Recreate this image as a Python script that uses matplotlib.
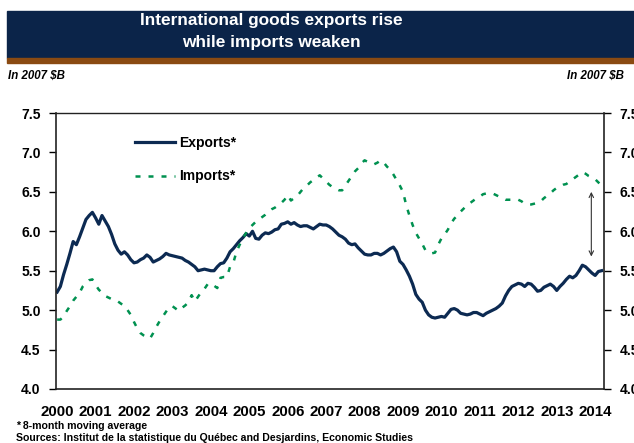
import matplotlib

matplotlib.use("Agg")

import matplotlib.pyplot as plt
import numpy as np
from matplotlib.patches import Rectangle

plt.rcParams["font.family"] = ["Liberation Sans", "DejaVu Sans"]
plt.rcParams["font.weight"] = "bold"

# monthly values, Jan 2000 .. Mar 2014 (8-month moving average, 2007 $B)
START_YEAR = 2000
exports = [
    5.23, 5.30, 5.45, 5.58, 5.72, 5.87, 5.83, 5.93, 6.04, 6.15, 6.20, 6.24,  # 2000
    6.17, 6.09, 6.20, 6.13, 6.06, 5.96, 5.84, 5.76, 5.71, 5.74, 5.70, 5.64,  # 2001
    5.60, 5.61, 5.64, 5.66, 5.70, 5.67, 5.61, 5.63, 5.65, 5.68, 5.72, 5.70,  # 2002
    5.69, 5.68, 5.67, 5.66, 5.63, 5.61, 5.58, 5.55, 5.50, 5.51, 5.52, 5.51,  # 2003
    5.50, 5.50, 5.55, 5.59, 5.60, 5.66, 5.74, 5.78, 5.83, 5.88, 5.92, 5.97,  # 2004
    5.94, 6.00, 5.91, 5.90, 5.95, 5.98, 5.97, 5.99, 6.02, 6.03, 6.09, 6.10,  # 2005
    6.12, 6.09, 6.11, 6.08, 6.06, 6.07, 6.07, 6.05, 6.03, 6.06, 6.09, 6.08,  # 2006
    6.08, 6.06, 6.03, 5.99, 5.95, 5.93, 5.90, 5.85, 5.83, 5.84, 5.79, 5.75,  # 2007
    5.71, 5.70, 5.70, 5.72, 5.72, 5.70, 5.72, 5.75, 5.78, 5.80, 5.74, 5.62,  # 2008
    5.58, 5.51, 5.43, 5.33, 5.20, 5.14, 5.10, 5.00, 4.94, 4.91, 4.90, 4.91,  # 2009
    4.92, 4.91, 4.96, 5.01, 5.02, 5.00, 4.96, 4.95, 4.94, 4.95, 4.97, 4.97,  # 2010
    4.95, 4.93, 4.96, 4.98, 5.00, 5.02, 5.05, 5.09, 5.18, 5.25, 5.30, 5.32,  # 2011
    5.34, 5.33, 5.30, 5.34, 5.33, 5.29, 5.24, 5.25, 5.29, 5.31, 5.33, 5.30,  # 2012
    5.25, 5.30, 5.34, 5.39, 5.43, 5.41, 5.44, 5.50, 5.57, 5.55, 5.51, 5.47,  # 2013
    5.44, 5.49, 5.50,                                                        # 2014
]
imports = [
    4.88, 4.88, 4.92, 4.99, 5.05, 5.12, 5.17, 5.22, 5.30, 5.34, 5.38, 5.39,  # 2000
    5.32, 5.26, 5.22, 5.18, 5.16, 5.14, 5.13, 5.11, 5.08, 5.06, 5.00, 4.94,  # 2001
    4.85, 4.77, 4.71, 4.68, 4.66, 4.64, 4.71, 4.79, 4.86, 4.92, 4.98, 5.04,  # 2002
    5.05, 5.02, 4.99, 5.03, 5.06, 5.10, 5.19, 5.11, 5.17, 5.23, 5.27, 5.33,  # 2003
    5.34, 5.31, 5.28, 5.41, 5.42, 5.42, 5.55, 5.60, 5.74, 5.83, 5.91, 5.98,  # 2004
    6.04, 6.08, 6.12, 6.15, 6.18, 6.21, 6.25, 6.28, 6.30, 6.33, 6.36, 6.40,  # 2005
    6.46, 6.39, 6.42, 6.45, 6.50, 6.55, 6.58, 6.62, 6.65, 6.68, 6.71, 6.67,  # 2006
    6.63, 6.59, 6.56, 6.54, 6.52, 6.52, 6.58, 6.64, 6.70, 6.76, 6.80, 6.86,  # 2007
    6.90, 6.88, 6.86, 6.85, 6.87, 6.90, 6.87, 6.82, 6.78, 6.72, 6.65, 6.58,  # 2008
    6.50, 6.33, 6.20, 6.08, 5.98, 5.91, 5.84, 5.76, 5.73, 5.72, 5.73, 5.83,  # 2009
    5.91, 5.96, 6.02, 6.10, 6.16, 6.20, 6.25, 6.29, 6.33, 6.36, 6.39, 6.42,  # 2010
    6.44, 6.47, 6.48, 6.48, 6.48, 6.46, 6.44, 6.42, 6.40, 6.40, 6.40, 6.40,  # 2011
    6.40, 6.38, 6.35, 6.34, 6.34, 6.35, 6.36, 6.38, 6.42, 6.45, 6.48, 6.52,  # 2012
    6.55, 6.57, 6.59, 6.60, 6.63, 6.66, 6.69, 6.72, 6.75, 6.73, 6.70, 6.68,  # 2013
    6.66, 6.62, 6.58,                                                        # 2014
]
year_ticks = list(range(2000, 2015))
y_ticks = [4.0, 4.5, 5.0, 5.5, 6.0, 6.5, 7.0, 7.5]
gap_arrow = (2013.9, 5.68, 6.5)  # x, low end, high end

NAVY = "#0c2a52"
GREEN = "#009150"
BANNER = "#0b2449"
BROWN = "#8a4a12"

W, H = 634, 443
fig = plt.figure(figsize=(W / 100, H / 100), dpi=100)


def fx(px):
    return px / W


def fy(py):
    return 1 - py / H


# title banner
fig.patches.append(Rectangle((fx(7), fy(58)), 1 - fx(7), fy(11) - fy(58),
                             transform=fig.transFigure, color=BANNER, zorder=0))
fig.patches.append(Rectangle((fx(7), fy(63)), 1 - fx(7), fy(58) - fy(63),
                             transform=fig.transFigure, color=BROWN, zorder=0))
fig.text(fx(271), fy(21), "International goods exports rise", color="white",
         fontsize=12.4, fontweight="bold", ha="center", va="center")
fig.text(fx(271), fy(43), "while imports weaken", color="white",
         fontsize=12.4, fontweight="bold", ha="center", va="center")

fig.text(fx(8), fy(76), "In 2007 $B", fontsize=8.3, fontweight="bold",
         fontstyle="italic", ha="left", va="center")
fig.text(fx(567), fy(76), "In 2007 $B", fontsize=8.3, fontweight="bold",
         fontstyle="italic", ha="left", va="center")

ax = fig.add_axes([fx(56), fy(389), fx(604) - fx(56), fy(113) - fy(389)])

months = START_YEAR + np.arange(len(exports)) / 12
ax.plot(months, exports, color=NAVY, lw=2.3, label="Exports*",
        solid_joinstyle="round")
ax.plot(months, imports, color=GREEN, lw=1.8, dashes=(2, 3.2),
        label="Imports*")

ax.annotate("", xy=(gap_arrow[0], gap_arrow[1]), xytext=(gap_arrow[0], gap_arrow[2]),
            arrowprops=dict(arrowstyle="<->", lw=0.8, color="#333333",
                            shrinkA=0, shrinkB=0, mutation_scale=8))

ax.set_xlim(1999.97, 2014.23)
ax.set_ylim(4.0, 7.5)
ax.set_yticks(y_ticks)
ax.set_yticklabels([f"{v:.1f}" for v in y_ticks])
ax.set_xticks(year_ticks)
ax.set_xticklabels([str(y) for y in year_ticks])
ax.tick_params(axis="y", left=True, right=True, labelleft=True, labelright=True,
               direction="out", length=5, width=1, labelsize=10, pad=6)
ax.tick_params(axis="x", bottom=False, labelsize=10.8, pad=8)
for lab in ax.get_xticklabels() + ax.get_yticklabels():
    lab.set_fontweight("bold")
for side in ["left", "right", "bottom"]:
    ax.spines[side].set_linewidth(1.2)
    ax.spines[side].set_color("#222222")
ax.spines["top"].set_linewidth(1.0)
ax.spines["top"].set_color("#222222")

ax.legend(loc="upper left", bbox_to_anchor=(fx(135), fy(136)),
          bbox_transform=fig.transFigure, frameon=False,
          handlelength=2.9, handletextpad=0.3, labelspacing=1.4,
          borderpad=0, borderaxespad=0, prop={"weight": "bold", "size": 10})

fig.text(fx(16), fy(426), "* 8-month moving average", fontsize=7.6,
         fontweight="bold", ha="left", va="center")
fig.text(fx(16), fy(438),
         "Sources: Institut de la statistique du Québec and Desjardins, Economic Studies",
         fontsize=7.6, fontweight="bold", ha="left", va="center")

fig.savefig("out.png", dpi=100)
